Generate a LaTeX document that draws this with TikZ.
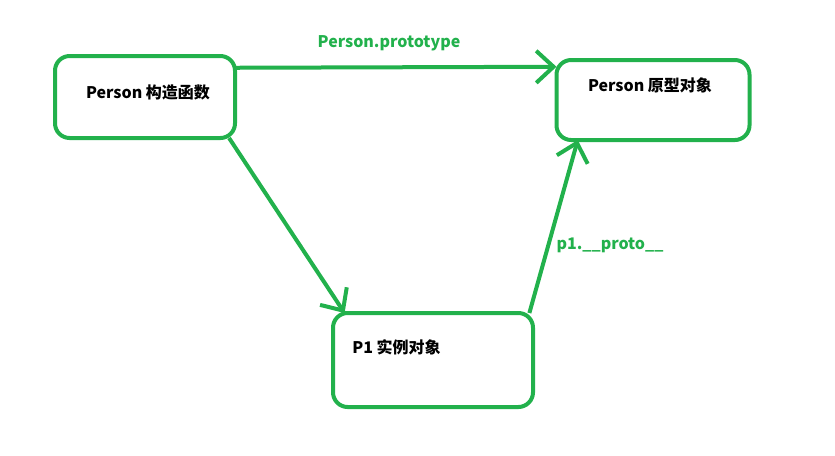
\documentclass[tikz,border=0pt]{standalone}
\usepackage{fontspec}
\setmainfont{Noto Sans CJK SC}
\usetikzlibrary{arrows.meta}
\definecolor{paintgreen}{RGB}{34,177,76}

\begin{document}
\begin{tikzpicture}[x=0.75pt, y=-0.75pt, font=\bfseries\fontsize{12}{14}\selectfont,
  objbox/.style={draw=paintgreen, line width=3pt, rounded corners=11pt, outer sep=0pt, inner sep=0pt},
  link/.style={draw=paintgreen, line width=3pt, -{Straight Barb[length=13pt, width=24pt, line width=3pt]}},
  linklabel/.style={text=paintgreen}]
\useasboundingbox (0,0) rectangle (835,455);
% boxes
\node[objbox, minimum width=135pt, minimum height=61.5pt] (ctor) at (145,97) {};
\node[objbox, minimum width=144.75pt, minimum height=60pt] (proto) at (653,100) {};
\node[objbox, minimum width=150pt, minimum height=70.5pt] (inst) at (433,360) {};
\node (ctortext) at (148,92) {Person 构造函数};
\node (prototext) at (650,85) {Person 原型对象};
\node[anchor=west, inner sep=0pt] (insttext) at (352,347) {P1 实例对象};
% links
\draw[link] (ctor.18) -- (proto.161);
\draw[link] (ctor.-26.3) -- (inst.152.4);
\draw[link] (inst.26.6) -- (proto.-152);
\node[linklabel] (protolabel) at (389,43) {Person.prototype};
\node[linklabel] (dunderlabel) at (610,245) {p1.\_\_proto\_\_};
\end{tikzpicture}
\end{document}
